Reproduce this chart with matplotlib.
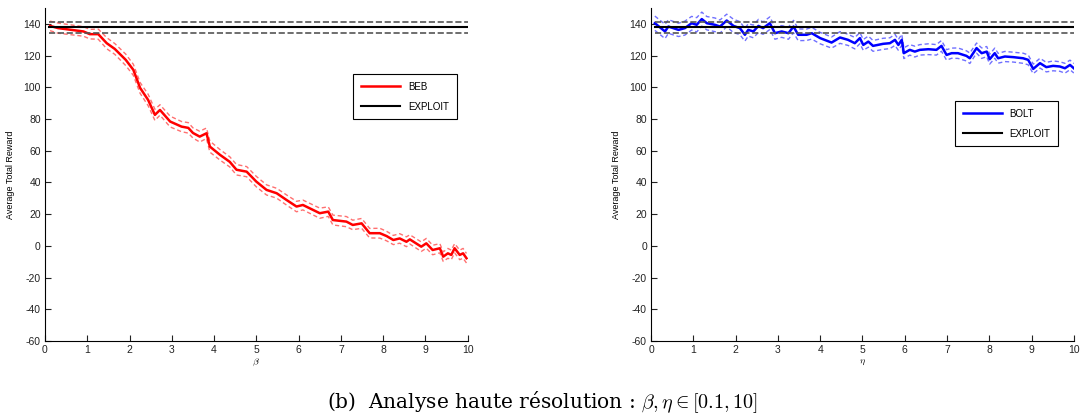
import numpy as np
import matplotlib
matplotlib.use("Agg")
from matplotlib import pyplot as plt

# BEB sweep over beta
beb_x = [0.12, 0.31, 0.91, 1.06, 1.26, 1.46, 1.65, 1.91, 2.09, 2.25, 2.44, 2.6, 2.72,
         2.96, 3.23, 3.39, 3.5, 3.66, 3.82, 3.9, 4.14, 4.37, 4.53, 4.77, 5.0, 5.24,
         5.48, 5.71, 5.95, 6.1, 6.5, 6.7, 6.81, 7.13, 7.28, 7.49, 7.68, 7.92, 8.08,
         8.24, 8.39, 8.55, 8.63, 8.9, 9.02, 9.17, 9.34, 9.42, 9.53, 9.61, 9.69, 9.81,
         9.89, 9.97]
beb_mean = [138.7, 137.3, 135.2, 133.5, 133.5, 127.8, 124.2, 117.3, 111.0, 99.6, 92.0,
            82.6, 85.7, 78.4, 75.2, 74.4, 71.2, 68.9, 71.0, 62.6, 57.4, 53.0, 48.0,
            46.8, 40.5, 35.3, 33.2, 29.0, 24.8, 25.8, 20.6, 21.6, 16.3, 15.3, 13.2,
            14.2, 8.0, 8.0, 6.2, 3.7, 4.7, 2.6, 4.1, -0.5, 1.6, -2.6, -1.5, -6.8, -4.7,
            -5.7, -1.5, -5.7, -4.7, -7.8]
beb_ci = [3.0, 3.2, 3.0, 3.0, 3.2, 3.5, 3.4, 3.6, 3.5, 3.4, 3.6, 3.5, 3.3, 3.4, 3.2,
          3.3, 3.2, 3.4, 3.3, 3.5, 3.3, 3.2, 3.3, 3.2, 3.3, 3.2, 3.1, 3.2, 3.3, 3.1,
          3.2, 3.0, 3.1, 3.2, 3.0, 3.1, 3.0, 3.1, 3.0, 2.9, 3.0, 3.1, 2.9, 3.0, 3.1,
          3.0, 2.9, 3.0, 3.1, 3.0, 2.9, 3.0, 3.1, 3.0]

# BOLT sweep over eta
bolt_x = [0.09, 0.33, 0.41, 0.65, 0.8, 0.96, 1.08, 1.2, 1.32, 1.51, 1.63, 1.79, 1.95,
          2.1, 2.22, 2.3, 2.42, 2.54, 2.65, 2.81, 2.93, 3.09, 3.25, 3.37, 3.48, 3.68,
          3.8, 4.0, 4.27, 4.47, 4.66, 4.82, 4.94, 5.02, 5.14, 5.25, 5.49, 5.65, 5.77,
          5.85, 5.93, 5.98, 6.12, 6.24, 6.36, 6.56, 6.75, 6.87, 6.99, 7.11, 7.26, 7.46,
          7.54, 7.7, 7.82, 7.94, 8.01, 8.13, 8.21, 8.37, 8.57, 8.8, 8.92, 9.04, 9.2,
          9.35, 9.51, 9.67, 9.79, 9.91, 10.0]
bolt_mean = [140.4, 135.2, 138.3, 136.2, 137.3, 140.4, 139.4, 143.0, 140.4, 139.4,
             138.3, 142.1, 138.7, 137.3, 133.1, 136.2, 135.2, 138.7, 137.3, 140.4,
             134.1, 135.2, 134.1, 138.3, 133.1, 133.1, 134.1, 131.0, 128.2, 131.4,
             129.9, 127.8, 131.0, 126.7, 128.8, 126.1, 127.4, 127.8, 129.9, 126.7,
             129.9, 121.5, 123.6, 122.5, 123.6, 124.0, 123.6, 126.1, 120.4, 121.5,
             121.5, 119.8, 118.3, 124.7, 121.5, 122.5, 117.7, 121.5, 118.3, 119.4,
             119.0, 118.3, 117.3, 111.6, 115.2, 112.7, 113.5, 113.1, 112.0, 114.1, 112.0]
bolt_ci = [4.5, 4.5, 4.3, 4.2, 4.4, 4.3, 4.5, 4.4, 4.2, 4.3, 4.1, 4.0, 4.2, 4.1, 4.0,
           3.9, 4.0, 4.1, 3.9, 4.0, 3.8, 3.7, 3.8, 3.9, 3.7, 3.6, 3.7, 3.6, 3.5, 3.7,
           3.5, 3.6, 3.5, 3.4, 3.5, 3.4, 3.5, 3.4, 3.5, 3.4, 3.5, 3.4, 3.3, 3.4, 3.3,
           3.4, 3.3, 3.4, 3.3, 3.2, 3.3, 3.2, 3.3, 3.2, 3.3, 3.2, 3.1, 3.2, 3.1, 3.2,
           3.1, 3.2, 3.1, 3.0, 3.1, 3.0, 3.1, 3.0, 3.1, 3.0, 3.0]

exploit_span = [0.1, 10]
exploit_mean = 137.7
exploit_ci = 3.6

x_ticks = list(range(0, 11))
y_ticks = list(range(-60, 141, 20))

plt.rcParams['font.family'] = ['Liberation Sans', 'DejaVu Sans']
plt.rcParams['mathtext.fontset'] = 'cm'
plt.rcParams['axes.unicode_minus'] = False

fig = plt.figure(figsize=(10.84, 4.2), dpi=100)
ax1 = fig.add_axes([0.0415, 0.188, 0.390, 0.793])
ax2 = fig.add_axes([0.6006, 0.188, 0.390, 0.793])


def draw_panel(ax, x, mean, ci, color, band_color, name, xlabel, anchor):
    x = np.array(x)
    mean = np.array(mean)
    ci = np.array(ci)
    ax.plot(x, mean + ci, '--', color=band_color, lw=1.0, dashes=(3, 2))
    ax.plot(x, mean - ci, '--', color=band_color, lw=1.0, dashes=(3, 2))
    ax.plot(x, mean, '-', color=color, lw=1.8, label=name)
    ax.plot(exploit_span, [exploit_mean + exploit_ci] * 2, '--', color='#555555', lw=1.2)
    ax.plot(exploit_span, [exploit_mean - exploit_ci] * 2, '--', color='#555555', lw=1.2)
    ax.plot(exploit_span, [exploit_mean] * 2, '-', color='black', lw=1.5, label='EXPLOIT')

    ax.set_xlim(0, 10)
    ax.set_ylim(-60, 150)
    ax.set_xticks(x_ticks)
    ax.set_yticks(y_ticks)
    ax.tick_params(direction='in', length=4, labelsize=7.5, colors='#222222', pad=3)
    ax.spines['top'].set_visible(False)
    ax.spines['right'].set_visible(False)
    ax.set_xlabel(xlabel, fontsize=7, labelpad=1)
    ax.set_ylabel('Average Total Reward', fontsize=6.5, labelpad=6)

    leg = ax.legend(loc='upper right', bbox_to_anchor=anchor, fontsize=7,
                    fancybox=False, framealpha=1, edgecolor='black',
                    handlelength=4, borderpad=0.8, labelspacing=1.0)
    leg.get_frame().set_linewidth(0.8)


draw_panel(ax1, beb_x, beb_mean, beb_ci, '#ff0000', '#ff7070', 'BEB',
           r'$\beta$', (0.985, 0.816))
draw_panel(ax2, bolt_x, bolt_mean, bolt_ci, '#0000ff', '#7070ff', 'BOLT',
           r'$\eta$', (0.974, 0.735))

fig.text(0.5, 0.043, r'(b)  Analyse haute résolution : $\beta, \eta \in [0.1, 10]$',
         ha='center', va='center', fontsize=14.5, family=['DejaVu Serif'])

fig.savefig('out.png', dpi=100)
